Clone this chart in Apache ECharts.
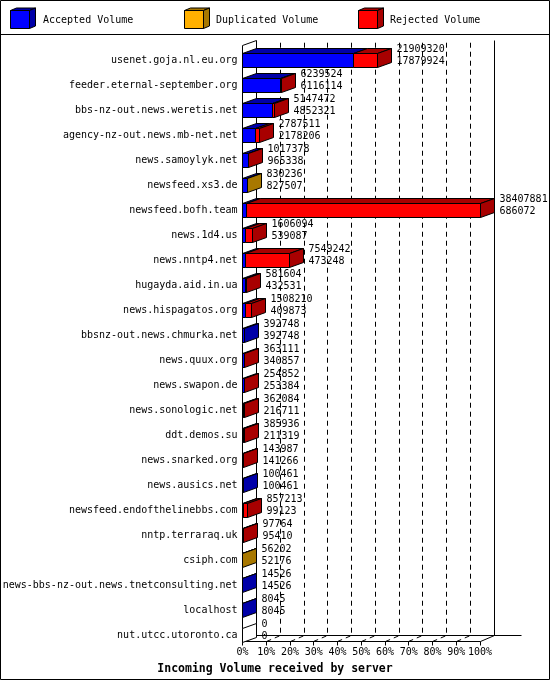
<!DOCTYPE html>
<html><head><meta charset="utf-8">
<script src="https://cdn.jsdelivr.net/npm/echarts@6/dist/echarts.min.js"></script>
<style>html,body{margin:0;padding:0;background:#fff}#c{width:550px;height:680px}</style>
</head><body><div id="c"></div>
<script>
// ---------------- data ----------------
const categories = [
  'usenet.goja.nl.eu.org','feeder.eternal-september.org','bbs-nz-out.news.weretis.net',
  'agency-nz-out.news.mb-net.net','news.samoylyk.net','newsfeed.xs3.de','newsfeed.bofh.team',
  'news.1d4.us','news.nntp4.net','hugayda.aid.in.ua','news.hispagatos.org',
  'bbsnz-out.news.chmurka.net','news.quux.org','news.swapon.de','news.sonologic.net',
  'ddt.demos.su','news.snarked.org','news.ausics.net','newsfeed.endofthelinebbs.com',
  'nntp.terraraq.uk','csiph.com','news-bbs-nz-out.news.tnetconsulting.net','localhost',
  'nut.utcc.utoronto.ca'
];
const acceptedVolume = [
  17879924, 6116114, 4852321, 2178206, 965338, 827507, 686072,
  539087, 473248, 432531, 409873, 392748, 340857, 253384, 216711,
  211319, 141266, 100461, 99123, 95410, 52176, 14526, 8045, 0
];
const duplicatedVolume = [
  0, 0, 0, 0, 0, 2729, 0,
  0, 0, 0, 0, 0, 0, 0, 0,
  0, 0, 0, 0, 0, 4026, 0, 0, 0
];
const rejectedVolume = [
  4029396, 123410, 295151, 609305, 52040, 0, 37721809,
  1067007, 7075994, 149073, 1098337, 0, 22254, 1468, 145373,
  174617, 2721, 0, 758090, 2354, 0, 0, 0, 0
];
const legendNames = ['Accepted Volume', 'Duplicated Volume', 'Rejected Volume'];
const percentTicks = [0, 10, 20, 30, 40, 50, 60, 70, 80, 90, 100];
const axisTitle = 'Incoming Volume received by server';

// ---------------- styling ----------------
const FONT = 'DejaVu Sans Mono';
const COLORS = [
  { front: '#0000ff', dark: '#0000a8' },
  { front: '#ffb000', dark: '#a87800' },
  { front: '#ff0000', dark: '#a80000' }
];
const DX = 14, DY = 5, HALF = 7;
const crisp = v => Math.round(v - 0.5) + 0.5;

const totals = categories.map((_, i) => acceptedVolume[i] + duplicatedVolume[i] + rejectedVolume[i]);
const maxTotal = Math.max(...totals);
const pct = v => v / maxTotal * 100;

const barData = categories.map((c, i) => [i, acceptedVolume[i], duplicatedVolume[i], rejectedVolume[i]]);

function renderBar(params, api) {
  const i = api.value(0);
  const vals = [api.value(1), api.value(2), api.value(3)];
  const yc = api.coord([0, i])[1];
  const top = crisp(yc - HALF), bot = crisp(yc + HALF);
  const children = [];
  let cum = 0, last = null;
  vals.forEach((v, k) => {
    if (!(v > 0)) return;
    const xs = crisp(api.coord([pct(cum), i])[0]);
    cum += v;
    const xe = crisp(api.coord([pct(cum), i])[0]);
    children.push({ type: 'rect', shape: { x: xs, y: top, width: xe - xs, height: bot - top },
      style: { fill: COLORS[k].front, stroke: '#000', lineWidth: 1 } });
    children.push({ type: 'polygon', shape: { points: [[xs, top], [xs + DX, top - DY], [xe + DX, top - DY], [xe, top]] },
      style: { fill: COLORS[k].dark, stroke: '#000', lineWidth: 1 } });
    last = k;
  });
  const xEnd = crisp(api.coord([pct(cum), i])[0]);
  children.push({ type: 'polygon', shape: { points: [[xEnd, top], [xEnd + DX, top - DY], [xEnd + DX, bot - DY], [xEnd, bot]] },
    style: { fill: last === null ? '#fff' : COLORS[last].dark, stroke: '#000', lineWidth: 1 } });
  const tx = xEnd + DX + 5;
  children.push({ type: 'text', style: { text: String(totals[i]), x: tx, y: yc - 11, fill: '#000',
    font: '10px "' + FONT + '"', verticalAlign: 'middle', align: 'left' } });
  children.push({ type: 'text', style: { text: String(acceptedVolume[i]), x: tx, y: yc + 1, fill: '#000',
    font: '10px "' + FONT + '"', verticalAlign: 'middle', align: 'left' } });
  return { type: 'group', children };
}

function renderFrame(params, api) {
  const cs = params.coordSys;
  const FL = crisp(cs.x), FR = crisp(cs.x + cs.width);
  const yFirst = api.coord([0, 0])[1], yLast = api.coord([0, categories.length - 1])[1];
  const fTop = crisp(yFirst - 15), fBot = crisp(yLast + 6.5);
  const bTop = fTop - 5, bBot = fBot - 6;
  const ln = (pts, dash) => ({ type: 'polyline', shape: { points: pts },
    style: { stroke: '#000', lineWidth: 1, fill: null, lineDash: dash || null } });
  const ch = [];
  percentTicks.forEach(p => {
    if (p === 0 || p === 100) return;
    const x = crisp(api.coord([p, 0])[0]);
    ch.push(ln([[x, fBot], [x + DX, bBot], [x + DX, bTop]], [5, 4]));
  });
  ch.push(ln([[FL, fTop], [FL, fBot]]));
  ch.push(ln([[FL, fTop], [FL + DX, bTop]]));
  ch.push(ln([[FL + DX, bTop], [FL + DX, bBot]]));
  ch.push(ln([[FL, fBot], [FL + DX, bBot]]));
  ch.push(ln([[FR + DX, bTop], [FR + DX, bBot]]));
  ch.push(ln([[FL + DX, bBot], [FR + DX + 27, bBot]]));
  ch.push(ln([[FL, fBot], [FR, fBot], [FR + DX, bBot]]));
  percentTicks.forEach(p => {
    const x = crisp(api.coord([p, 0])[0]);
    ch.push(ln([[x, fBot], [x, fBot + 4]]));
  });
  return { type: 'group', children: ch };
}

function cube(x, y, col, name, tx) {
  const w = 19, h = 18, dx = 6, dy = 2.5;
  return [
    { type: 'rect', shape: { x: x, y: y, width: w, height: h }, style: { fill: col.front, stroke: '#000', lineWidth: 1 } },
    { type: 'polygon', shape: { points: [[x, y], [x + dx, y - dy], [x + w + dx, y - dy], [x + w, y]] }, style: { fill: col.dark, stroke: '#000', lineWidth: 1 } },
    { type: 'polygon', shape: { points: [[x + w, y], [x + w + dx, y - dy], [x + w + dx, y + h - dy], [x + w, y + h]] }, style: { fill: col.dark, stroke: '#000', lineWidth: 1 } },
    { type: 'text', style: { text: name, x: tx, y: y + 9.5, font: '10px "' + FONT + '"', fill: '#000', verticalAlign: 'middle' } }
  ];
}

const chart = echarts.init(document.getElementById('c'), null, { renderer: 'canvas' });
chart.setOption({
  backgroundColor: '#fff',
  animation: false,
  title: { text: axisTitle, left: 'center', top: 658,
    textStyle: { fontFamily: FONT, fontSize: 11.5, fontWeight: 'bold', color: '#000' } },
  grid: { left: 242.5, top: 47.5, width: 237.5, height: 600, containLabel: false, outerBoundsMode: 'none' },
  xAxis: {
    type: 'value', min: 0, max: 100, interval: 10, offset: -6,
    axisLine: { show: false }, axisTick: { show: false }, splitLine: { show: false },
    axisLabel: { margin: 6, formatter: v => v + '%', fontFamily: FONT, fontSize: 10, color: '#000' }
  },
  yAxis: {
    type: 'category', data: categories, inverse: true,
    axisLine: { show: false }, axisTick: { show: false }, splitLine: { show: false },
    axisLabel: { interval: 0, margin: 5, fontFamily: FONT, fontSize: 10, color: '#000', padding: [0, 0, 2, 0] }
  },
  graphic: [
    { type: 'rect', shape: { x: 0.5, y: 0.5, width: 549, height: 679 }, style: { fill: null, stroke: '#000', lineWidth: 1 }, z: 100 },
    { type: 'line', shape: { x1: 0, y1: 34.5, x2: 550, y2: 34.5 }, style: { stroke: '#000', lineWidth: 1 } },
    { type: 'group', children: []
      .concat(cube(10.5, 10.5, COLORS[0], legendNames[0], 43))
      .concat(cube(184.5, 10.5, COLORS[1], legendNames[1], 216))
      .concat(cube(358.5, 10.5, COLORS[2], legendNames[2], 390)) }
  ],
  series: [
    { type: 'custom', z: 1, silent: true, renderItem: renderFrame, data: [[0, 0]], encode: { x: 0, y: 1 }, clip: false },
    { type: 'custom', z: 2, silent: true, renderItem: renderBar, data: barData, encode: { y: 0, x: 1 }, clip: false }
  ]
});
</script></body></html>
